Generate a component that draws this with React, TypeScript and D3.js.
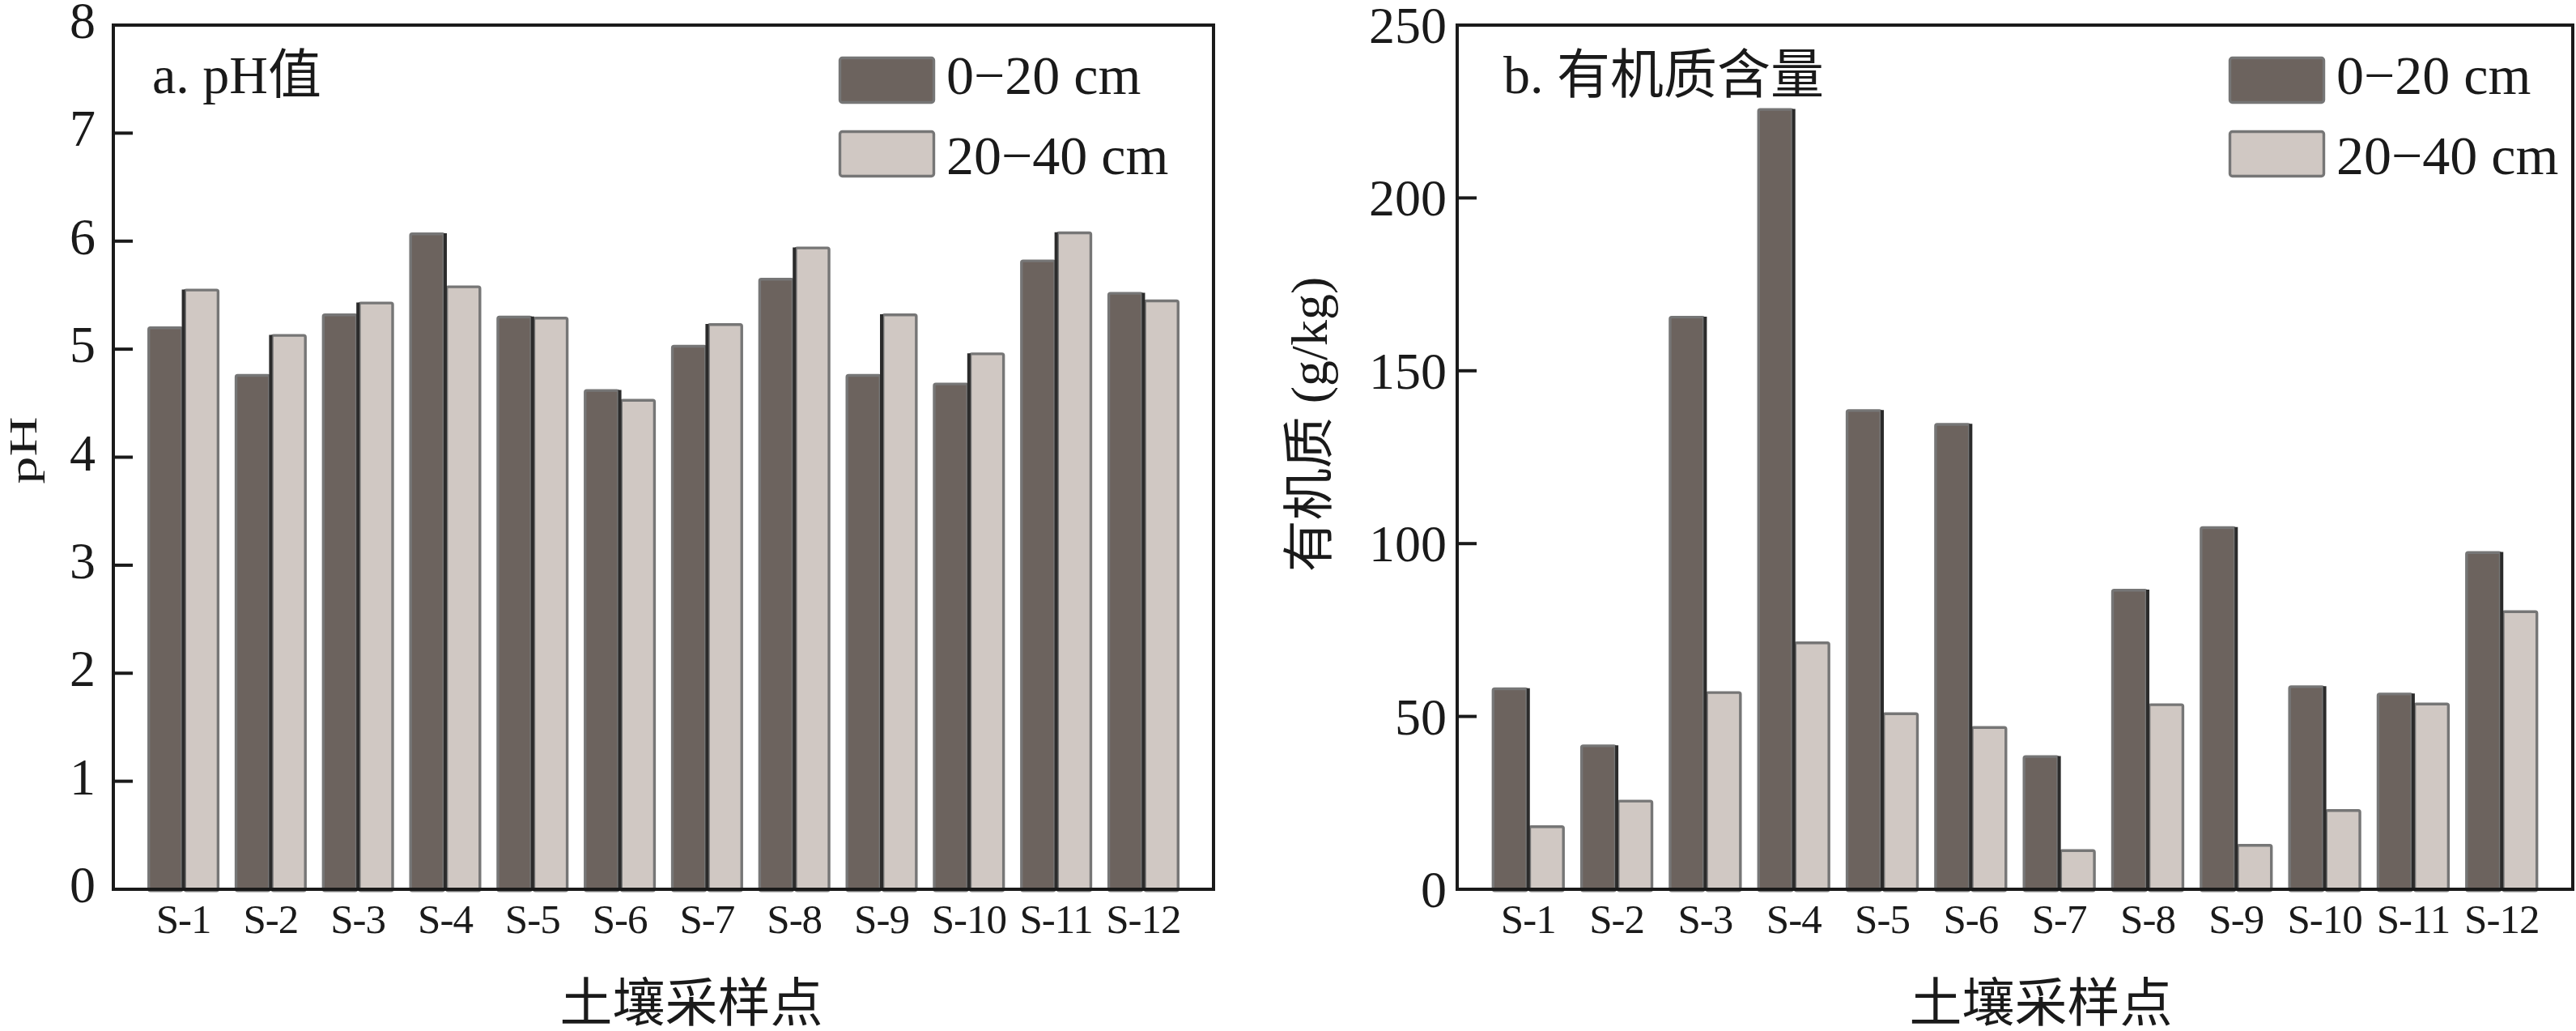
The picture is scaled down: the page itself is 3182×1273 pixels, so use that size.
import React from "react";
import * as d3 from "d3";

const sites = ["S-1", "S-2", "S-3", "S-4", "S-5", "S-6", "S-7", "S-8", "S-9", "S-10", "S-11", "S-12"];
const seriesNames = ["0\u221220 cm", "20\u221240 cm"];
const ph0_20 = [5.21, 4.77, 5.33, 6.08, 5.31, 4.63, 5.04, 5.66, 4.77, 4.69, 5.83, 5.53];
const ph20_40 = [5.56, 5.14, 5.44, 5.59, 5.3, 4.54, 5.24, 5.95, 5.33, 4.97, 6.09, 5.46];
const om0_20 = [58.4, 41.9, 165.9, 226.0, 138.9, 134.9, 38.8, 86.9, 105.0, 59.0, 56.9, 97.8];
const om20_40 = [18.5, 25.9, 57.3, 71.7, 51.2, 47.2, 11.6, 53.8, 13.1, 23.2, 54.0, 80.7];
const phTicks = [0, 1, 2, 3, 4, 5, 6, 7, 8];
const omTicks = [0, 50, 100, 150, 200, 250];

const LATIN = "'Liberation Serif', 'Times New Roman', serif";
const MIXED = "'Liberation Serif', 'Noto Sans CJK SC', serif";
const DARK = "#6c635e";
const LIGHT = "#d0c8c3";
const EDGE = "#767676";
const INK = "#1a1a1a";

type PanelProps = {
  left: number;
  right: number;
  top: number;
  bottom: number;
  domainMax: number;
  ticks: number[];
  a: number[];
  b: number[];
  title: string;
  titleX: number;
  legendX: number;
  tickGap: number;
  tickDy: number;
  xLabelX: number;
  yLabel: React.ReactNode;
};

function Panel(p: PanelProps) {
  const x = d3.scaleBand<string>().domain(sites).range([p.left, p.right]).paddingInner(0.174).paddingOuter(0.39);
  const sub = d3.scaleBand<number>().domain([0, 1]).range([0, x.bandwidth()]);
  const y = d3.scaleLinear().domain([0, p.domainMax]).range([p.bottom, p.top]);
  const sw = 3.4;
  const h = sw / 2;
  return (
    <g>
      {sites.map((s, i) => {
        const x0 = x(s)!;
        const bw = sub.bandwidth();
        const ya = y(p.a[i]);
        const yb = y(p.b[i]);
        return (
          <g key={s}>
            <rect x={x0 + sub(0)! + h} y={ya + h} width={bw - sw} height={p.bottom - ya} fill={DARK} stroke={EDGE} strokeWidth={sw} rx={2} />
            <rect x={x0 + sub(1)! + h} y={yb + h} width={bw - sw} height={p.bottom - yb} fill={LIGHT} stroke={EDGE} strokeWidth={sw} rx={2} />
            <line x1={x0 + sub(1)!} x2={x0 + sub(1)!} y1={Math.min(ya, yb) + 1} y2={p.bottom} stroke="#2b2b2b" strokeWidth={4} />
          </g>
        );
      })}
      {/* frame */}
      <rect x={p.left} y={p.top} width={p.right - p.left} height={p.bottom - p.top} fill="none" stroke={INK} strokeWidth={4} />
      {p.ticks.map((t) => (
        <g key={t}>
          <line x1={p.left} x2={p.left + 24} y1={y(t)} y2={y(t)} stroke={INK} strokeWidth={4} />
          <text x={p.left - p.tickGap} y={y(t) + p.tickDy} textAnchor="end" fontFamily={LATIN} fontSize={64} fill={INK}>
            {t}
          </text>
        </g>
      ))}
      {sites.map((s) => (
        <text key={s} x={x(s)! + x.bandwidth() / 2} y={1152} textAnchor="middle" fontFamily={LATIN} fontSize={51} letterSpacing={-1} fill={INK}>
          {s}
        </text>
      ))}
      <text x={p.titleX} y={115} fontFamily={MIXED} fontSize={66} fill={INK}>
        {p.title}
      </text>
      {seriesNames.map((n, i) => (
        <g key={n}>
          <rect x={p.legendX + 1.5} y={70 + i * 91 + 1.5} width={116} height={55} fill={i === 0 ? DARK : LIGHT} stroke={EDGE} strokeWidth={3.4} rx={3} />
          <text x={p.legendX + 133} y={116 + i * 99} fontFamily={LATIN} fontSize={68} fill={INK}>
            {n}
          </text>
        </g>
      ))}
      <text x={p.xLabelX} y={1261} textAnchor="middle" fontFamily={MIXED} fontSize={65} fill={INK}>
        土壤采样点
      </text>
      {p.yLabel}
    </g>
  );
}

export default function App() {
  return (
    <svg
      width={3182}
      height={1273}
      viewBox="0 0 3182 1273"
      style={{ position: "absolute", left: 0, top: 0, background: "#fff" }}
    >
      <rect x={0} y={0} width={3182} height={1273} fill="#fff" />
      <Panel
        left={140}
        right={1499}
        top={31}
        bottom={1098}
        domainMax={8}
        ticks={phTicks}
        a={ph0_20}
        b={ph20_40}
        title="a. pH值"
        titleX={188}
        legendX={1036}
        tickGap={22}
        tickDy={16}
        xLabelX={854}
        yLabel={
          <text transform="translate(45,556) rotate(-90) scale(1,0.72)" textAnchor="middle" fontFamily={LATIN} fontSize={68} fill={INK}>
            pH
          </text>
        }
      />
      <Panel
        left={1800}
        right={3178}
        top={31}
        bottom={1098}
        domainMax={250}
        ticks={omTicks}
        a={om0_20}
        b={om20_40}
        title="b. 有机质含量"
        titleX={1857}
        legendX={2753}
        tickGap={13}
        tickDy={22}
        xLabelX={2521}
        yLabel={
          <text transform="translate(1639,524) rotate(-90)" textAnchor="middle" fontFamily={MIXED} fontSize={64} fill={INK}>
            有机质 (g/kg)
          </text>
        }
      />
    </svg>
  );
}
